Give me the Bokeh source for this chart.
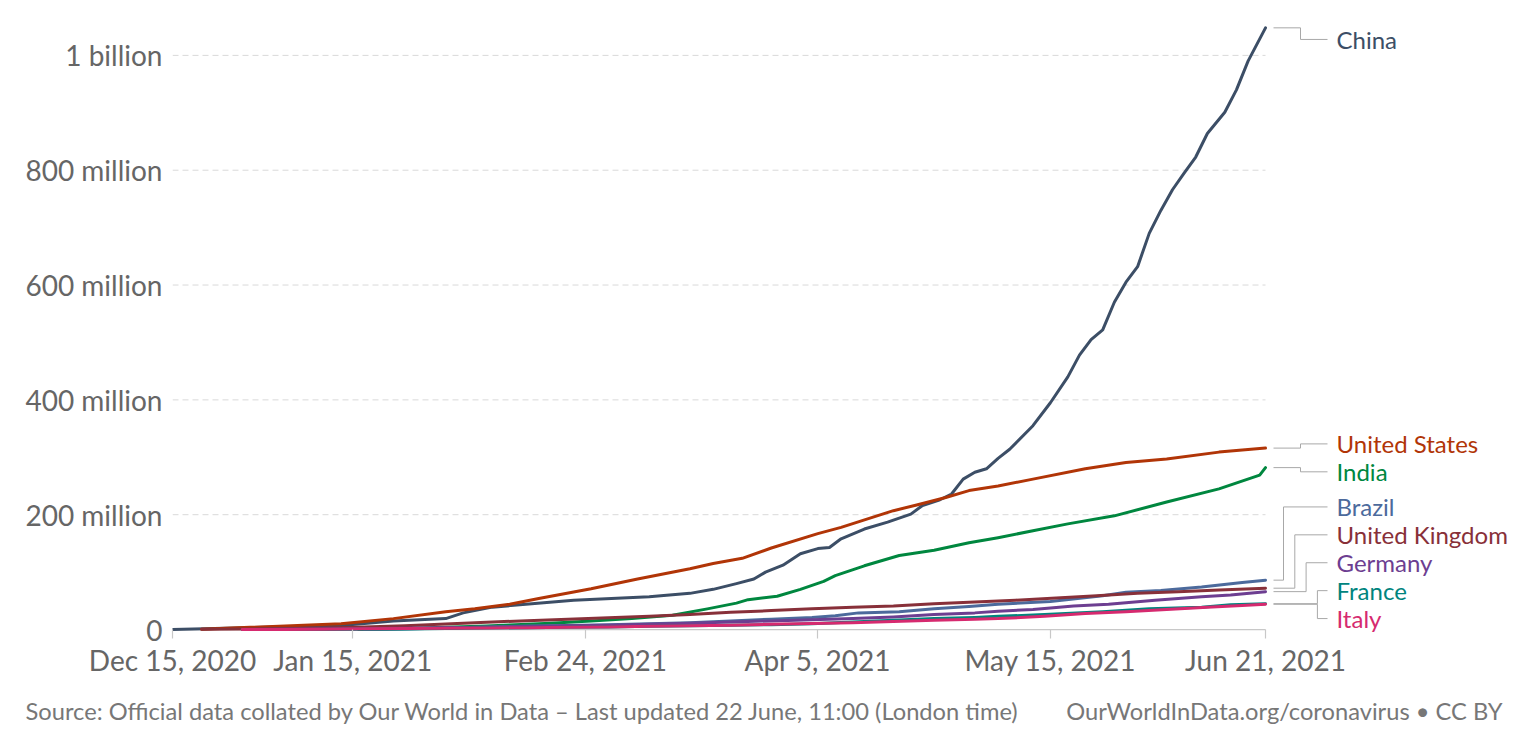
import pandas as pd
from bokeh.plotting import figure
from bokeh.models import Range1d, FixedTicker, ColumnDataSource, Title
from bokeh.core.properties import value
from bokeh.embed import file_html
from bokeh.resources import INLINE

# ---------------- data (cumulative COVID-19 vaccine doses, millions) ----------------
china_dates = ["2020-12-15", "2021-01-13", "2021-01-22", "2021-01-31", "2021-02-03", "2021-02-08",
               "2021-02-22", "2021-03-07", "2021-03-14", "2021-03-18", "2021-03-22", "2021-03-25",
               "2021-03-27", "2021-03-30", "2021-04-02", "2021-04-05", "2021-04-07", "2021-04-09",
               "2021-04-13", "2021-04-17", "2021-04-21", "2021-04-23", "2021-04-26", "2021-04-28",
               "2021-04-30", "2021-05-02", "2021-05-04", "2021-05-06", "2021-05-08", "2021-05-12",
               "2021-05-15", "2021-05-18", "2021-05-20", "2021-05-22", "2021-05-24", "2021-05-26",
               "2021-05-28", "2021-05-30", "2021-06-01", "2021-06-03", "2021-06-05", "2021-06-07",
               "2021-06-09", "2021-06-11", "2021-06-14", "2021-06-16", "2021-06-18", "2021-06-21"]
china_vals = [0, 7, 15, 19, 29, 39, 51, 57, 63, 70, 80, 88, 100, 112, 132, 141, 143, 158, 175, 187,
              201, 216, 226, 236, 262, 274, 280, 298, 314, 355, 395, 440, 478, 505, 522, 570, 605,
              632, 690, 730, 766, 795, 823, 864, 901, 940, 990, 1048]

us_dates = ["2020-12-20", "2021-01-13", "2021-01-22", "2021-01-31", "2021-02-05", "2021-02-11",
            "2021-02-16", "2021-02-25", "2021-03-05", "2021-03-14", "2021-03-18", "2021-03-23",
            "2021-03-28", "2021-04-05", "2021-04-09", "2021-04-18", "2021-04-22", "2021-04-27",
            "2021-05-01", "2021-05-06", "2021-05-12", "2021-05-21", "2021-05-28", "2021-06-04",
            "2021-06-13", "2021-06-21"]
us_vals = [0.6, 10, 19, 31, 36, 44, 54, 71, 88, 106, 115, 124, 142, 167, 178, 207, 217, 230, 242,
           250, 262, 280, 291, 297, 309, 316]

india_dates = ["2021-01-16", "2021-01-24", "2021-01-31", "2021-02-07", "2021-02-11", "2021-02-18",
               "2021-02-25", "2021-03-04", "2021-03-11", "2021-03-17", "2021-03-22", "2021-03-24",
               "2021-03-29", "2021-04-02", "2021-04-06", "2021-04-08", "2021-04-13", "2021-04-19",
               "2021-04-25", "2021-05-01", "2021-05-06", "2021-05-12", "2021-05-18", "2021-05-26",
               "2021-06-04", "2021-06-13", "2021-06-20", "2021-06-21"]
india_vals = [0.2, 2, 4, 6, 8, 11, 15, 19, 25, 36, 46, 52, 58, 70, 84, 94, 111, 129, 138, 151, 160,
              172, 184, 198, 222, 245, 269, 282]

brazil_dates = ["2021-01-17", "2021-01-24", "2021-01-31", "2021-02-07", "2021-02-14", "2021-02-21",
                "2021-02-28", "2021-03-07", "2021-03-14", "2021-03-21", "2021-03-28", "2021-04-04",
                "2021-04-08", "2021-04-12", "2021-04-19", "2021-04-25", "2021-05-01", "2021-05-06",
                "2021-05-15", "2021-05-24", "2021-05-28", "2021-06-03", "2021-06-10", "2021-06-17",
                "2021-06-21"]
brazil_vals = [0, 1, 2.5, 4.5, 6, 7, 8.5, 10, 12, 15, 18, 21, 24, 29, 31, 36, 40, 44, 49, 59, 65,
               68, 74, 82, 86]

uk_dates = ["2020-12-20", "2020-12-27", "2021-01-10", "2021-01-17", "2021-01-24", "2021-01-31",
            "2021-02-07", "2021-02-14", "2021-02-21", "2021-02-28", "2021-03-07", "2021-03-14",
            "2021-03-21", "2021-03-28", "2021-04-04", "2021-04-11", "2021-04-18", "2021-04-25",
            "2021-05-02", "2021-05-09", "2021-05-16", "2021-05-23", "2021-05-30", "2021-06-06",
            "2021-06-13", "2021-06-21"]
uk_vals = [0.7, 1, 2.7, 4.5, 6.6, 9.6, 12.5, 15.5, 18, 20.5, 23, 26, 30, 33, 36, 39, 41, 45, 48, 51,
           55, 59, 63, 66, 69, 72]

germany_dates = ["2020-12-27", "2021-01-03", "2021-01-10", "2021-01-17", "2021-01-24", "2021-01-31",
                 "2021-02-07", "2021-02-14", "2021-02-21", "2021-02-28", "2021-03-07", "2021-03-14",
                 "2021-03-21", "2021-03-28", "2021-04-04", "2021-04-11", "2021-04-18", "2021-04-25",
                 "2021-05-02", "2021-05-06", "2021-05-12", "2021-05-19", "2021-05-25", "2021-06-02",
                 "2021-06-10", "2021-06-15", "2021-06-21"]
germany_vals = [0, 0.3, 0.8, 1.5, 2.2, 3, 4, 5.3, 6.5, 7.5, 9, 11, 13, 15, 17, 19, 22, 26, 29, 32,
                35, 41, 44, 51, 57, 60, 66]

france_dates = ["2020-12-27", "2021-01-10", "2021-01-17", "2021-01-24", "2021-01-31", "2021-02-07",
                "2021-02-14", "2021-02-21", "2021-02-28", "2021-03-07", "2021-03-14", "2021-03-21",
                "2021-03-28", "2021-04-04", "2021-04-11", "2021-04-18", "2021-04-25", "2021-05-02",
                "2021-05-06", "2021-05-14", "2021-05-24", "2021-06-01", "2021-06-10", "2021-06-15",
                "2021-06-21"]
france_vals = [0, 0.1, 0.5, 1, 1.7, 2.5, 3.2, 3.8, 4.5, 5.5, 6.5, 7.5, 8.5, 10, 13, 16, 19, 21, 23,
               26, 31, 36, 39, 43, 45]

italy_dates = ["2020-12-27", "2021-01-03", "2021-01-10", "2021-01-17", "2021-01-24", "2021-01-31",
               "2021-02-07", "2021-02-14", "2021-02-21", "2021-02-28", "2021-03-07", "2021-03-14",
               "2021-03-21", "2021-03-28", "2021-04-04", "2021-04-11", "2021-04-18", "2021-04-25",
               "2021-05-02", "2021-05-06", "2021-05-14", "2021-05-21", "2021-05-28", "2021-06-04",
               "2021-06-11", "2021-06-17", "2021-06-21"]
italy_vals = [0, 0.1, 0.5, 1.2, 1.6, 2.1, 2.6, 3.3, 3.8, 4.4, 5.5, 6.5, 7.5, 9, 10.5, 12, 14, 16, 18,
              19, 23, 28, 31, 35, 39, 42, 44]

countries = ["China", "United States", "India", "Brazil", "United Kingdom", "Germany", "France", "Italy"]
colors = ["#3c4e66", "#b13507", "#00873f", "#4c6a9c", "#883039", "#6d3e91", "#00847e", "#d62a6f"]
all_dates = [china_dates, us_dates, india_dates, brazil_dates, uk_dates, germany_dates, france_dates, italy_dates]
all_vals = [china_vals, us_vals, india_vals, brazil_vals, uk_vals, germany_vals, france_vals, italy_vals]

x_tick_dates = ["2020-12-15", "2021-01-15", "2021-02-24", "2021-04-05", "2021-05-15", "2021-06-21"]
x_tick_labels = ["Dec 15, 2020", "Jan 15, 2021", "Feb 24, 2021", "Apr 5, 2021", "May 15, 2021", "Jun 21, 2021"]
y_ticks = [0, 200, 400, 600, 800, 1000]
y_tick_labels = ["0", "200 million", "400 million", "600 million", "800 million", "1 billion"]

source_text = "Source: Official data collated by Our World in Data \u2013 Last updated 22 June, 11:00 (London time)"
credit_text = "OurWorldInData.org/coronavirus \u2022 CC BY"

# ---------------- layout ----------------
START = pd.Timestamp("2020-12-15")


def to_days(ds):
    return [(pd.Timestamp(d) - START).days for d in ds]


W, H = 1523, 740
LEFT, TOP = 172, 20
ZERO_PX = 631          # page row of the value 0
FRAME_BOTTOM = 640     # frame reaches a little below 0 so that the lowest end label is not clipped
BOTTOM = H - FRAME_BOTTOM
FRAME_W = W - LEFT
tick_days = to_days(x_tick_dates)
LAST = tick_days[-1]
PX_PER_DAY = 1093 / LAST
PX_PER_M = 576 / 1000
X_END = FRAME_W / PX_PER_DAY
Y_END = (ZERO_PX - TOP) / PX_PER_M
Y_START = -(FRAME_BOTTOM - ZERO_PX) / PX_PER_M
FONT = "Lato"
AXIS_GREY = "#c8c8c8"

p = figure(width=W, height=H, output_backend="svg", toolbar_location=None,
           x_range=Range1d(0, X_END), y_range=Range1d(Y_START, Y_END),
           min_border_left=LEFT, min_border_top=TOP, min_border_right=0, min_border_bottom=BOTTOM)
p.outline_line_color = None
p.xgrid.visible = False
p.ygrid.visible = False

# dashed grid lines only across the data span, solid baseline at zero
p.segment(x0=[0] * (len(y_ticks) - 1), x1=[LAST] * (len(y_ticks) - 1), y0=y_ticks[1:], y1=y_ticks[1:],
          line_color="#d9d9d9", line_width=1, line_dash="6 4")
p.segment(x0=[0], x1=[LAST], y0=[0], y1=[0], line_color=AXIS_GREY, line_width=1.2)

xa = p.xaxis[0]
xa.ticker = FixedTicker(ticks=tick_days)
xa.major_label_overrides = {d: l for d, l in zip(tick_days, x_tick_labels)}
xa.bounds = (0, LAST)
xa.axis_line_color = None
xa.major_tick_line_color = AXIS_GREY
xa.major_tick_line_width = 1.2
xa.major_tick_out = 0
xa.major_tick_in = FRAME_BOTTOM - ZERO_PX
xa.minor_tick_line_color = None
xa.major_label_text_font = FONT
xa.major_label_text_font_size = "28px"
xa.major_label_text_color = "#666666"
xa.major_label_standoff = 4

ya = p.yaxis[0]
ya.ticker = FixedTicker(ticks=y_ticks)
ya.major_label_overrides = {t: l for t, l in zip(y_ticks, y_tick_labels)}
ya.bounds = (0, Y_END)
ya.axis_line_color = None
ya.major_tick_line_color = None
ya.major_tick_out = 0
ya.major_tick_in = 0
ya.minor_tick_line_color = None
ya.major_label_text_font = FONT
ya.major_label_text_font_size = "28px"
ya.major_label_text_color = "#666666"
ya.major_label_standoff = 10

for name, col, ds, vs in zip(countries, colors, all_dates, all_vals):
    p.line(to_days(ds), vs, line_color=col, line_width=3, line_join="round", line_cap="round")

# ---------------- end labels with de-overlap ----------------
ends = [v[-1] for v in all_vals]
order = sorted(range(len(countries)), key=lambda i: -ends[i])
desired = [(Y_END - ends[i]) * PX_PER_M for i in order]   # px below the top of the frame
GAP, LO, HI = 28, 19, (ZERO_PX - TOP) - 11

clusters = []
for i, d in enumerate(desired):
    clusters.append([i, 1, d])
    while True:
        c = clusters[-1]
        n = c[1]
        mean = sum(desired[c[0]:c[0] + n]) / n
        top = mean - (n - 1) * GAP / 2
        top = max(LO, min(top, HI - (n - 1) * GAP))
        c[2] = top
        if len(clusters) > 1:
            pc = clusters[-2]
            if pc[2] + pc[1] * GAP > top + 1e-9:
                pc[1] += n
                clusters.pop()
                continue
        break

label_px = [0.0] * len(order)
bend_px = [0.0] * len(order)
for c in clusters:
    n = c[1]
    n_up = sum(1 for k in range(n) if c[2] + k * GAP < desired[c[0] + k] - 1)
    for k in range(n):
        idx = c[0] + k
        label_px[idx] = c[2] + k * GAP
        if n >= 3:
            bend_px[idx] = 18 + 11.3 * min(k, max(n_up - 1, 0))
        else:
            bend_px[idx] = 35

lab_x = LAST + 71 / PX_PER_DAY
xs, ys, lx, ly, lt, lc = [], [], [], [], [], []
for j, i in enumerate(order):
    yv_end = ends[i]
    yv_lab = Y_END - label_px[j] / PX_PER_M
    x0 = LAST + 8 / PX_PER_DAY
    xb = LAST + bend_px[j] / PX_PER_DAY
    x1 = LAST + 62 / PX_PER_DAY
    xs.append([x0, xb, xb, x1])
    ys.append([yv_end, yv_end, yv_lab, yv_lab])
    lx.append(lab_x)
    ly.append(yv_lab)
    lt.append(countries[i])
    lc.append(colors[i])

p.multi_line(xs, ys, line_color="#a8a8a8", line_width=1)
p.text(x="x", y="y", text="t", text_color="c",
       source=ColumnDataSource(dict(x=lx, y=ly, t=lt, c=lc)),
       text_font=value(FONT), text_font_size="24px", text_baseline="middle", text_align="left")

# ---------------- footer: one line under the axis ----------------
footer = source_text + "\u00a0" * 8 + credit_text
p.add_layout(Title(text=footer, align="left", offset=25 - LEFT, standoff=31,
                   text_font=FONT, text_font_size="23.7px", text_font_style="normal",
                   text_color="#777777"), "below")

open("out.html", "w").write(file_html(p, INLINE))
